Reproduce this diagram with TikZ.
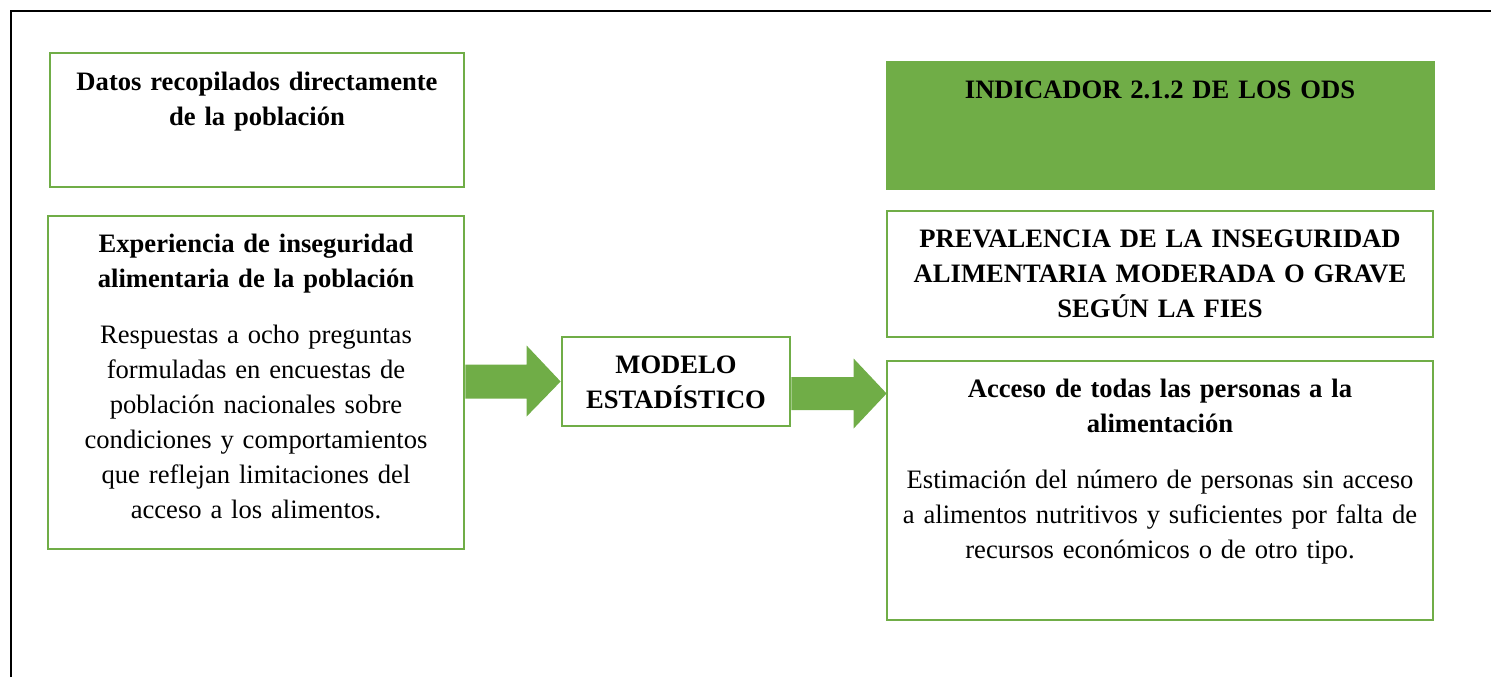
\documentclass[tikz,border=0pt]{standalone}
\usepackage{fontspec}
\setmainfont{Liberation Serif}
\usetikzlibrary{fit,calc}
\definecolor{ggreen}{HTML}{70AD47}
\tikzset{
  gbox/.style={draw=ggreen, line width=1.4pt, inner sep=0pt},
  gfill/.style={draw=ggreen, fill=ggreen, line width=1pt, inner sep=0pt},
  txt/.style={inner sep=0pt, align=center, font=\fontsize{13.3pt}{17.5pt}\selectfont},
  barrow/.style={fill=ggreen},
}
\begin{document}
\begin{tikzpicture}[x=0.5pt,y=-0.5pt]
\useasboundingbox (0,0) rectangle (1491,677);
% open frame
\draw[line width=1.4pt] (11,677) -- (11,11) -- (1491,11);
% boxes
\node[gbox, fit={(50,53) (464,187)}] (A) {};
\node[gbox, fit={(48,216) (464,549)}] (B) {};
\node[gfill, fit={(887,62) (1434,189)}] (C) {};
\node[gbox, fit={(887,211) (1433,337)}] (D) {};
\node[gbox, fit={(887,361) (1433,620)}] (E) {};
\node[gbox, fit={(562,337) (790,426)}] (M) {};
% texts
\node[txt, text width=230pt, anchor=base] (At) at (257,90) {\textbf{Datos recopilados directamente}\\ \textbf{de la población}};
\node[txt, text width=230pt, anchor=base] (Bt) at (256,252) {\textbf{Experiencia de inseguridad}\\ \textbf{alimentaria de la población}\\[10.5pt]
Respuestas a ocho preguntas\\ formuladas en encuestas de\\ población nacionales sobre\\ condiciones y comportamientos\\ que reflejan limitaciones del\\ acceso a los alimentos.};
\node[txt, text width=300pt, anchor=base] (Ct) at (1160,98) {\textbf{INDICADOR 2.1.2 DE LOS ODS}};
\node[txt, text width=300pt, anchor=base] (Dt) at (1160,247) {\textbf{PREVALENCIA DE LA INSEGURIDAD}\\ \textbf{ALIMENTARIA MODERADA O GRAVE}\\ \textbf{SEGÚN LA FIES}};
\node[txt, text width=300pt, anchor=base] (Et) at (1160,397) {\textbf{Acceso de todas las personas a la}\\ \textbf{alimentación}\\[10.5pt]
Estimación del número de personas sin acceso\\ a alimentos nutritivos y suficientes por falta de\\ recursos económicos o de otro tipo.};
\node[txt, text width=130pt, anchor=base] (Mt) at (676,373) {\textbf{MODELO}\\ \textbf{ESTADÍSTICO}};
% block arrows
\coordinate (a1s) at (B.east |- M.west);
\coordinate (a1t) at (M.west);
\fill[barrow] ($(a1s)+(0,-17)$) -- ($(a1t)+(-34,-17)$) -- ($(a1t)+(-34,-36)$) -- (a1t)
  -- ($(a1t)+(-34,35)$) -- ($(a1t)+(-34,17)$) -- ($(a1s)+(0,17)$) -- cycle;
\coordinate (a2s) at ($(M.east)+(0,12)$);
\coordinate (a2t) at ($(E.west |- a2s)+(1,0)$);
\fill[barrow] ($(a2s)+(0,-16.5)$) -- ($(a2t)+(-33,-16.5)$) -- ($(a2t)+(-33,-35)$) -- (a2t)
  -- ($(a2t)+(-33,35)$) -- ($(a2t)+(-33,16.5)$) -- ($(a2s)+(0,16.5)$) -- cycle;
\end{tikzpicture}
\end{document}
